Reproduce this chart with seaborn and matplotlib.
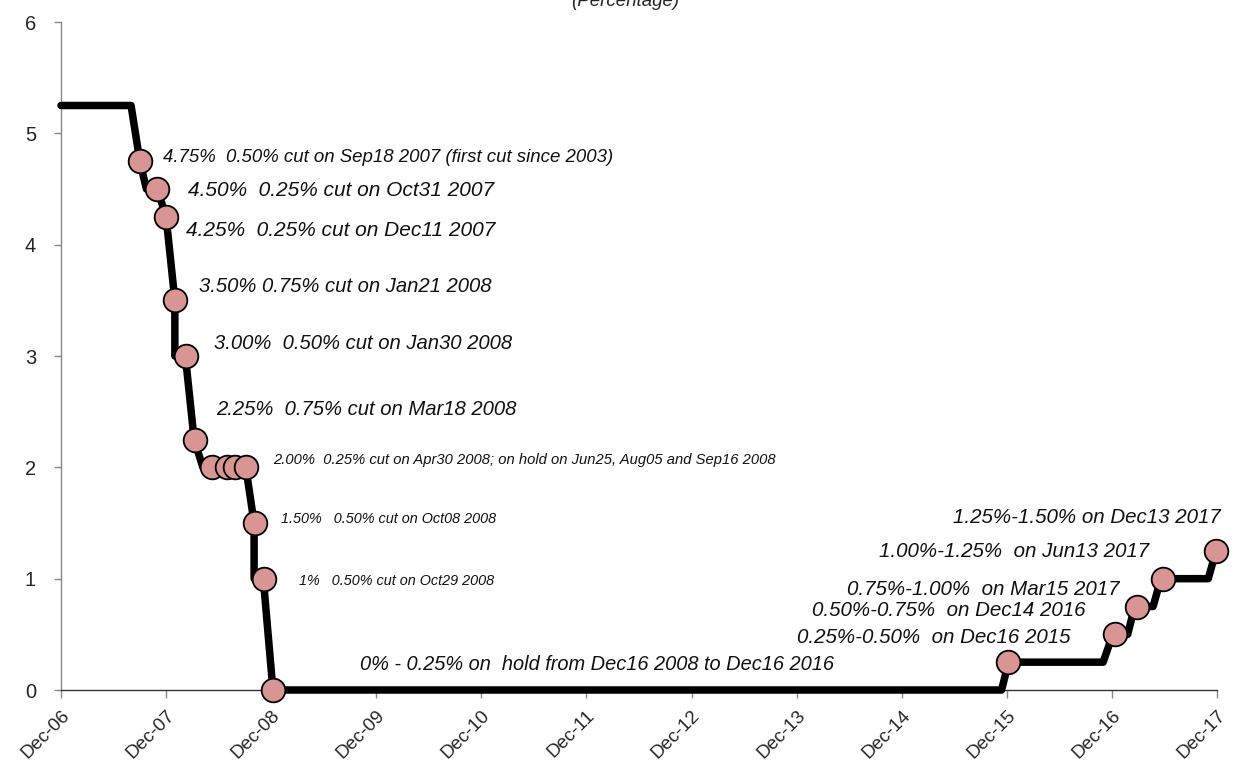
import matplotlib
matplotlib.use("Agg")
import matplotlib.pyplot as plt
import seaborn as sns
import pandas as pd

# ---- data (x in months since Dec-2006) ----
line_month = [0, 8, 9, 9.75, 11, 12, 13, 13, 14.2, 15.2, 16.2, 21.1, 22.05, 22.05, 23.1, 24.2,
              107.4, 108.2, 119.0, 120.1, 121.8, 122.6, 124.7, 125.6, 131.0, 131.9]
line_rate = [5.25, 5.25, 4.75, 4.5, 4.5, 4.25, 3.5, 3.0, 3.0, 2.25, 2.0, 2.0, 1.5, 1.0, 1.0, 0.0,
             0.0, 0.25, 0.25, 0.5, 0.5, 0.75, 0.75, 1.0, 1.0, 1.25]

marker_month = [9.02, 10.96, 11.99, 13.01, 14.27, 15.30, 17.2, 18.9, 19.86, 21.08, 22.15, 23.2, 24.24,
                108.1, 120.3, 122.9, 125.8, 131.9]
marker_rate = [4.75, 4.5, 4.25, 3.5, 3.0, 2.25, 2.0, 2.0, 2.0, 2.0, 1.5, 1.0, 0.0,
               0.25, 0.5, 0.75, 1.0, 1.25]

tick_labels = ["Dec-06", "Dec-07", "Dec-08", "Dec-09", "Dec-10", "Dec-11", "Dec-12",
               "Dec-13", "Dec-14", "Dec-15", "Dec-16", "Dec-17"]

notes = [
    "4.75%  0.50% cut on Sep18 2007 (first cut since 2003)",
    "4.50%  0.25% cut on Oct31 2007",
    "4.25%  0.25% cut on Dec11 2007",
    "3.50% 0.75% cut on Jan21 2008",
    "3.00%  0.50% cut on Jan30 2008",
    "2.25%  0.75% cut on Mar18 2008",
    "2.00%  0.25% cut on Apr30 2008; on hold on Jun25, Aug05 and Sep16 2008",
    "1.50%   0.50% cut on Oct08 2008",
    "1%   0.50% cut on Oct29 2008",
    "0% - 0.25% on  hold from Dec16 2008 to Dec16 2016",
    "0.25%-0.50%  on Dec16 2015",
    "0.50%-0.75%  on Dec14 2016",
    "0.75%-1.00%  on Mar15 2017",
    "1.00%-1.25%  on Jun13 2017",
    "1.25%-1.50% on Dec13 2017",
]
# layout of the notes (x month, y value, font size)
note_pos = [(11.64, 4.78, 13.4), (14.50, 4.49, 15), (14.27, 4.13, 15), (15.75, 3.62, 14.6),
            (17.47, 3.11, 14.6), (17.69, 2.52, 14.6), (24.20, 2.07, 10.6), (25.11, 1.54, 10.4),
            (27.17, 0.98, 10.4), (34.13, 0.225, 14.4), (84.0, 0.476, 14.8), (85.7, 0.71, 14.8),
            (89.8, 0.907, 14.8), (93.4, 1.24, 14.8), (101.9, 1.545, 14.8)]

sns.set_style("white")
plt.rcParams["font.family"] = ["Liberation Sans", "DejaVu Sans"]

fig = plt.figure(figsize=(12.33, 7.67), dpi=100)
ax = fig.add_axes([61 / 1233, 1 - 690 / 767, (1217 - 61) / 1233, (690 - 22) / 767])

df_line = pd.DataFrame({"m": line_month, "r": line_rate})
df_mk = pd.DataFrame({"m": marker_month, "r": marker_rate})

sns.lineplot(data=df_line, x="m", y="r", estimator=None, sort=False, color="black",
             linewidth=5.4, ax=ax, zorder=3, clip_on=False)
sns.scatterplot(data=df_mk, x="m", y="r", s=290, color="#d99594", edgecolor="black",
                linewidth=1.3, ax=ax, zorder=4, clip_on=False)

for txt, (x, y, fs) in zip(notes, note_pos):
    ax.text(x, y, txt, ha="left", va="center", fontsize=fs, style="italic",
            color="#111111")

ax.set_xlim(0, 132)
ax.set_ylim(0, 6)
ax.set_xticks(range(0, 133, 12))
ax.set_xticklabels(tick_labels, rotation=45, ha="right", rotation_mode="anchor", fontsize=13.5)
ax.set_yticks(range(0, 7))
ax.set_yticklabels([str(v) for v in range(0, 7)], fontsize=14.5)
ax.set_xlabel("")
ax.set_ylabel("")
for s in ["top", "right"]:
    ax.spines[s].set_visible(False)
ax.spines["left"].set_color("#888888")
ax.spines["left"].set_linewidth(1.0)
ax.spines["bottom"].set_color("#333333")
ax.spines["bottom"].set_linewidth(1.0)
ax.tick_params(axis="y", direction="out", length=5, width=1, color="#888888", left=True, pad=13)
ax.tick_params(axis="x", direction="out", length=6, width=1, color="#888888", bottom=True, pad=6)

fig.text(625 / 1233, 1 - 6 / 767, "(Percentage)", ha="center", va="baseline",
         fontsize=13.5, style="italic")

fig.savefig("out.png", dpi=100)
